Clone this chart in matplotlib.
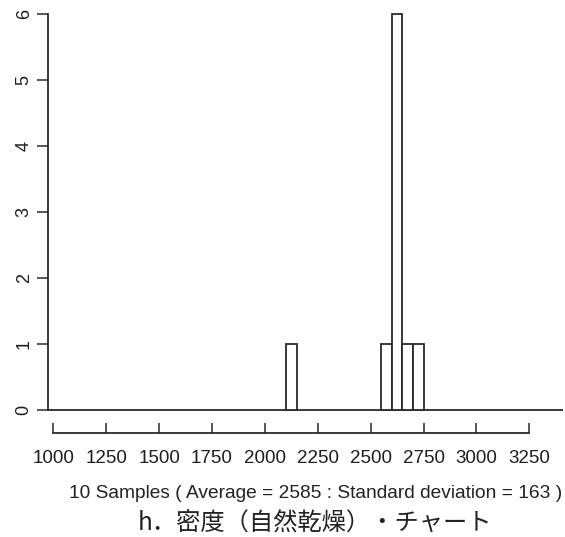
import matplotlib
matplotlib.use('Agg')
import matplotlib.pyplot as plt

# 度数分布（ビン幅 50）
bin_left = [2100, 2550, 2600, 2650, 2700]
counts = [1, 1, 6, 1, 1]
bin_width = 50
x_ticks = [1000, 1250, 1500, 1750, 2000, 2250, 2500, 2750, 3000, 3250]
y_ticks = [0, 1, 2, 3, 4, 5, 6]
subtitle = '10 Samples ( Average = 2585 : Standard deviation = 163 )'
title = 'h．密度（自然乾燥）・チャート'

line_c = '#2a2a2a'
W, H = 565, 537

fig = plt.figure(figsize=(W / 100, H / 100), dpi=100)
# 画素位置から軸の位置を決める
x0, x1 = 975, 3410
px_per = 52.9 / 250
left_px = 53.3 - (1000 - x0) * px_per
right_px = 53.3 + (x1 - 1000) * px_per
ax = fig.add_axes([left_px / W, (H - 410) / H, (right_px - left_px) / W, (410 - 14) / H])

ax.bar(bin_left, counts, width=bin_width, align='edge', facecolor='white',
       edgecolor=line_c, linewidth=1.3, clip_on=False, zorder=3)
ax.hlines(0, x0, x1, color=line_c, linewidth=1.3, clip_on=False, zorder=2)

ax.set_xlim(x0, x1)
ax.set_ylim(0, 6)

for s in ['top', 'right']:
    ax.spines[s].set_visible(False)
ax.spines['left'].set_bounds(0, 6)
ax.spines['left'].set_color(line_c)
ax.spines['left'].set_linewidth(1.3)
ax.spines['bottom'].set_position(('outward', 16.5))
ax.spines['bottom'].set_bounds(1000, 3250)
ax.spines['bottom'].set_color(line_c)
ax.spines['bottom'].set_linewidth(1.3)

ax.set_xticks(x_ticks)
ax.set_xticklabels([str(v) for v in x_ticks], fontfamily='Liberation Sans', fontsize=13.5,
                   color='#1e1e1e')
ax.set_yticks(y_ticks)
ax.set_yticklabels([str(v) for v in y_ticks], fontfamily='Liberation Sans', fontsize=13,
                   rotation=90, va='center', color='#1e1e1e')
ax.tick_params(axis='x', direction='in', length=7, width=1.1, color=line_c, pad=12.5)
ax.tick_params(axis='y', direction='out', length=8, width=1.1, color=line_c, pad=3)

fig.text(315.5 / W, 1 - 494 / H, subtitle, ha='center', va='center',
         fontfamily='Liberation Sans', fontsize=13.8, color='#222222')
fig.text(314.5 / W, 1 - 523.5 / H, title, ha='center', va='center',
         fontfamily=['Noto Sans CJK JP', 'DejaVu Sans'], fontsize=17.5, color='#222222')

fig.savefig('out.png', dpi=100)
